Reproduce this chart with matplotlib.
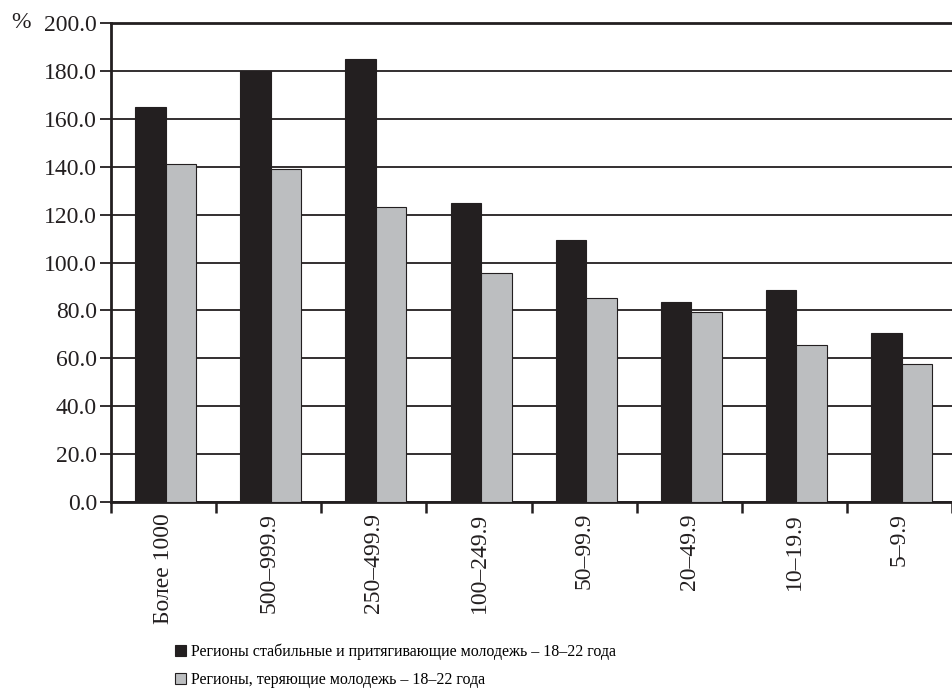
import numpy as np
import matplotlib.pyplot as plt
from matplotlib.patches import Patch

# categories (settlement size groups) and the two series, in %
categories = ['Более 1000', '500–999.9', '250–499.9', '100–249.9',
              '50–99.9', '20–49.9', '10–19.9', '5–9.9']
stable = [165.0, 180.0, 185.0, 125.0, 109.5, 83.5, 88.5, 70.5]
losing = [141.0, 139.0, 123.0, 95.5, 85.0, 79.5, 65.5, 57.5]

series_names = ['Регионы стабильные и притягивающие молодежь – 18–22 года',
                'Регионы, теряющие молодежь – 18–22 года']
yticks = np.arange(0, 201, 20)

plt.rcParams['font.family'] = ['Liberation Serif', 'DejaVu Serif']

fig = plt.figure(figsize=(9.52, 6.93), dpi=100)
ax = fig.add_axes([0.1166, 0.2756, 0.8834, 0.6912])

x = np.arange(len(categories))
w = 0.29
ax.bar(x - w / 2 + 0.02, stable, w, color='#231f20', edgecolor='#231f20',
       linewidth=0.8, zorder=3)
ax.bar(x + w / 2 + 0.02, losing, w, color='#bcbec0', edgecolor='#231f20',
       linewidth=0.8, zorder=3)

ax.set_xlim(-0.5, 7.43)
ax.set_ylim(0, 200)
ax.set_yticks(yticks)
ax.set_yticklabels([f'{v:.1f}' for v in yticks], fontsize=17, color='#231f20')
ax.yaxis.grid(True, color='#231f20', linewidth=1.3, zorder=0)

# ticks between categories, labels centred under each group
ax.set_xticks(np.arange(len(categories) + 1) - 0.5)
ax.set_xticklabels([])
ax.set_xticks(x, minor=True)
ax.set_xticklabels(categories, minor=True, rotation=90, fontsize=17,
                   color='#231f20')
ax.tick_params(axis='x', which='minor', length=0, pad=8)
ax.tick_params(axis='x', which='major', length=8, width=1.8, color='#231f20')
ax.tick_params(axis='y', length=8, width=1.3, color='#231f20', pad=2)

ax.spines['right'].set_visible(False)
for side in ['top', 'left', 'bottom']:
    ax.spines[side].set_linewidth(2.0)
    ax.spines[side].set_color('#231f20')

fig.text(0.012, 0.967, '%', fontsize=17, va='center', ha='left',
         color='#231f20')

handles = [Patch(facecolor='#231f20', edgecolor='#231f20', linewidth=0.8),
           Patch(facecolor='#bcbec0', edgecolor='#231f20', linewidth=0.8)]
fig.legend(handles, series_names, loc='upper left',
           bbox_to_anchor=(0.184, 0.071), frameon=False,
           fontsize=11.5, handlelength=0.7, handleheight=0.7,
           handletextpad=0.3, labelspacing=0.75, borderaxespad=0,
           borderpad=0)

fig.savefig('out.png', dpi=100)
